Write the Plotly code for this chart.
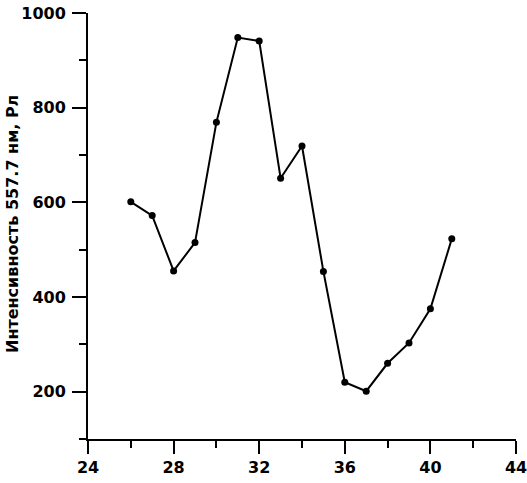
import plotly.graph_objects as go

days = [26, 27, 28, 29, 30, 31, 32, 33, 34, 35, 36, 37, 38, 39, 40, 41]
intensity = [601, 572, 455, 515, 769, 948, 941, 651, 719, 454, 220, 201, 260, 303, 375, 523]

x_ticks = [24, 28, 32, 36, 40, 44]
y_ticks = [200, 400, 600, 800, 1000]
y_title = "Интенсивность 557.7 нм, Рл"

fig = go.Figure()
fig.add_trace(go.Scatter(
    x=days, y=intensity, mode="lines+markers",
    line=dict(color="black", width=2),
    marker=dict(color="black", size=7),
    showlegend=False,
))

tick_font = dict(family="DejaVu Sans", size=16, color="black", weight="bold")
fig.update_layout(
    width=527, height=483,
    margin=dict(l=88, r=11, t=13, b=44),
    plot_bgcolor="white", paper_bgcolor="white",
    font=dict(family="DejaVu Sans", color="black"),
)
fig.update_xaxes(
    range=[24, 44], tickvals=x_ticks, ticktext=[str(v) for v in x_ticks],
    showgrid=False, zeroline=False, showline=True, linecolor="black", linewidth=2,
    ticks="outside", ticklen=13, tickwidth=2, tickcolor="black",
    minor=dict(dtick=2, tick0=24, ticks="outside", ticklen=7, tickwidth=2, tickcolor="black"),
    tickfont=tick_font, automargin=False, ticklabeloverflow="allow",
)
fig.update_yaxes(
    range=[100, 1000], tickvals=y_ticks, ticktext=[str(v) for v in y_ticks],
    showgrid=False, zeroline=False, showline=True, linecolor="black", linewidth=2,
    ticks="outside", ticklen=14, tickwidth=2, tickcolor="black",
    minor=dict(dtick=100, tick0=100, ticks="outside", ticklen=7, tickwidth=2, tickcolor="black"),
    tickfont=tick_font, automargin=False, ticklabelstandoff=3, ticklabeloverflow="allow",
)
fig.add_annotation(
    text=y_title, textangle=-90, showarrow=False,
    xref="paper", yref="paper", x=0, y=0.5, xanchor="center", yanchor="middle",
    xshift=-76, yshift=2, font=dict(family="DejaVu Sans", size=16, color="black", weight="bold"),
)

fig.write_html(
    "out.html",
    config={"displayModeBar": False},
    post_script="document.body.style.margin='0';document.body.style.overflow='hidden';",
)
